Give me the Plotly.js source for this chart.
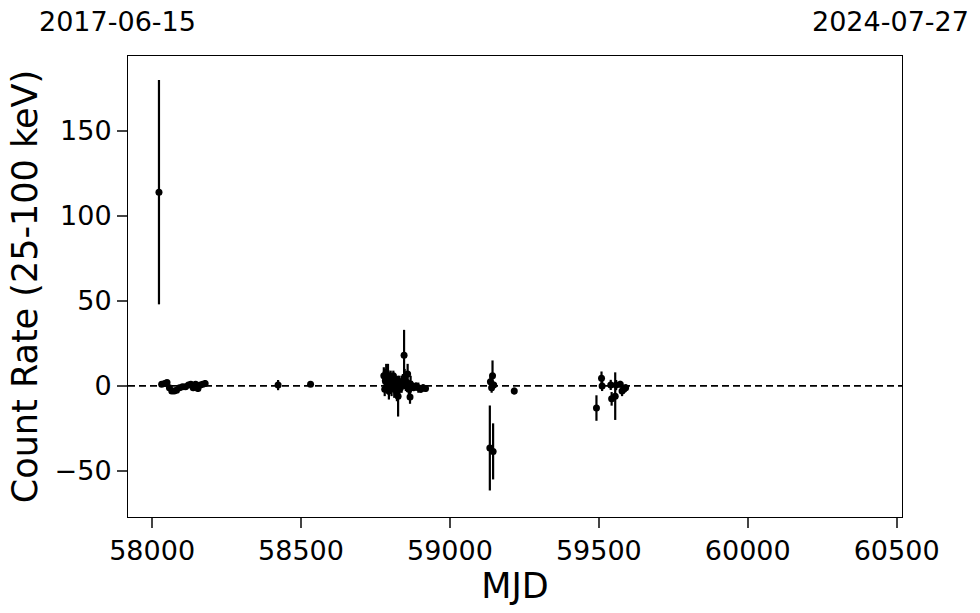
<!DOCTYPE html>
<html><head><meta charset="utf-8">
<script src="https://cdn.plot.ly/plotly-3.0.1.min.js"></script>
<style>body{margin:0;background:#fff}#chart{width:980px;height:613px}</style>
</head><body><div id="chart"></div>
<script>
// Observations: MJD, count rate (25-100 keV), 1-sigma error
const mjd = [
  58023, 58032, 58042, 58050, 58058, 58066, 58074, 58082, 58092, 58102, 58112, 58122, 58130, 58138, 58146, 58154, 58162, 58170, 58178,
  58423, 58532,
  58778, 58781, 58783, 58786, 58789, 58792, 58795, 58798, 58801, 58804, 58807, 58810, 58813, 58816, 58819, 58822, 58826, 58830, 58834,
  58838, 58842, 58846, 58848, 58852, 58856, 58858, 58862, 58866, 58868, 58872, 58878, 58886, 58894, 58902, 58910, 58918,
  59134, 59136, 59140, 59143, 59145, 59147, 59216,
  59492, 59509, 59511, 59540, 59543, 59555, 59558, 59572, 59578, 59584, 59590
];
const rate = [
  114, 1, 1.5, 2, -1, -3, -3, -2.5, -1, -0.5, -0.5, 0.5, 1, -1, 1, -1.5, 0.5, 1, 1.5,
  0.5, 1,
  6, -2, 3, 8, 0, 4, -3, 2, 5, -1, 1, 6, -2, 3, 0, -4, -6, 2, -1,
  1, 3, 18, 5, 0, 2, 7, -2, -6.5, 1, 0, -1, 0, -1, -2, -1, -1.5,
  -36.5, 2.5, -1, 6, -38.5, 0.5, -3,
  -13, 4.5, 0, 0.6, -7.6, -6, 0.5, 1, -3, -2, -1
];
const err = [
  66, 1.5, 1.5, 1.5, 1.5, 1.5, 1.5, 1.5, 1.5, 1.5, 1.5, 1.5, 1.5, 2, 1.5, 2, 1.5, 1.5, 2,
  3, 1,
  5, 4, 6, 5, 4, 9, 5, 6, 4, 5, 4, 3, 5, 4, 6, 5, 12, 4, 3,
  5, 4, 15, 5, 3, 4, 6, 3, 4, 5, 3, 2, 2, 3, 2, 2, 2,
  25, 3, 3, 9, 16.5, 2, 2,
  7.5, 4, 3, 3, 4, 14, 3, 2, 3, 2, 2
];
const xRange = [57919, 60518];
const dateLabels = ['2017-06-15', '2024-07-27'];
const xTicks = [58000, 58500, 59000, 59500, 60000, 60500];
const yTicks = [-50, 0, 50, 100, 150];

const font = 'DejaVu Sans, sans-serif';
const trace = {
  x: mjd, y: rate, type: 'scatter', mode: 'markers',
  marker: {color: '#000', size: 7},
  error_y: {type: 'data', array: err, visible: true, color: '#000', thickness: 2.2, width: 0},
  showlegend: false
};
const layout = {
  width: 980, height: 613,
  margin: {l: 128, r: 78, t: 56, b: 96},
  paper_bgcolor: '#fff', plot_bgcolor: '#fff',
  font: {family: font, color: '#000', size: 27},
  xaxis: {
    range: xRange, tickvals: xTicks, tickformat: 'd', ticks: 'outside', ticklen: 10, tickwidth: 2,
    showgrid: false, zeroline: false, showline: true, linecolor: '#000', linewidth: 1, mirror: true,
    tickfont: {size: 27}, title: {text: 'MJD', font: {size: 35}, standoff: 3}
  },
  yaxis: {
    range: [-77.1, 194.1], tickvals: yTicks, tickformat: 'd', ticks: 'outside', ticklen: 10, tickwidth: 2,
    showgrid: false, zeroline: false, showline: true, linecolor: '#000', linewidth: 1, mirror: true,
    tickfont: {size: 27}, title: {text: 'Count Rate (25-100 keV)', font: {size: 35}, standoff: 6}
  },
  shapes: [{type: 'line', xref: 'paper', x0: 0, x1: 1, yref: 'y', y0: 0, y1: 0,
            line: {color: '#000', width: 1.8, dash: '7px,4px'}}],
  annotations: [
    {text: dateLabels[0], xref: 'paper', yref: 'paper', x: -0.013, y: 1.074, xanchor: 'center', yanchor: 'middle', showarrow: false, font: {size: 27}},
    {text: dateLabels[1], xref: 'paper', yref: 'paper', x: 0.9845, y: 1.074, xanchor: 'center', yanchor: 'middle', showarrow: false, font: {size: 27}}
  ]
};
Plotly.newPlot('chart', [trace], layout, {staticPlot: true});
</script></body></html>
